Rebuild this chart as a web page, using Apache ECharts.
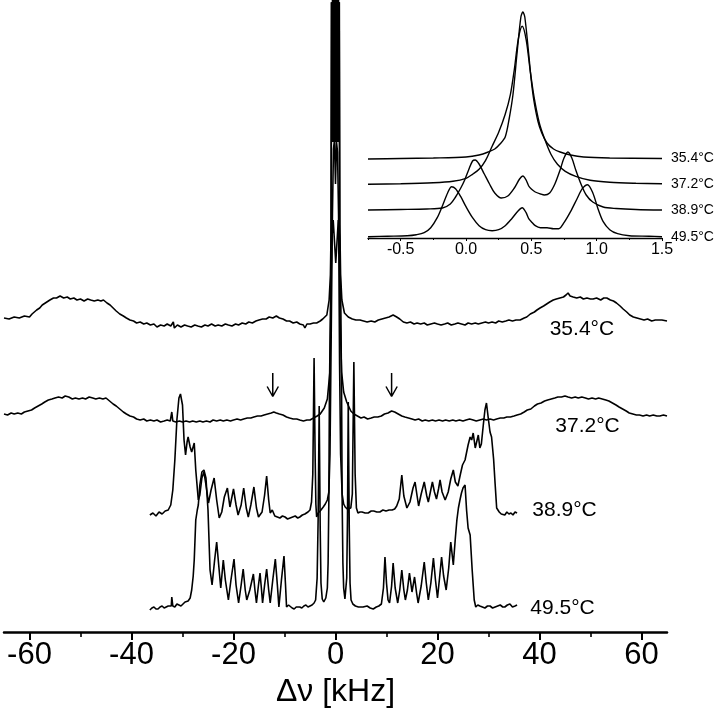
<!DOCTYPE html>
<html>
<head>
<meta charset="utf-8">
<script src="https://cdn.jsdelivr.net/npm/echarts@6.0.0/dist/echarts.min.js"></script>
<style>
  html, body { margin: 0; background: #fff; }
  #chart { width: 720px; height: 708px; }
</style>
</head>
<body>
<div id="chart"></div>
<script>
// temperatures (legend text of every trace)
const temps = ["35.4°C", "37.2°C", "38.9°C", "49.5°C"];

// main spectra: [Δν kHz, intensity above own baseline]
const spec354 = [[-65,7],[-64,6],[-63,8],[-62,7],[-61,9],[-60,8],[-59.5,11],[-58.6,15],[-58,17],[-57.5,20],[-56.6,23],[-56,25],[-55.3,27],[-54.7,27],[-54,29],[-53.3,27],[-52.6,28],[-52,26],[-51.3,27],[-50.7,25],[-50,26],[-49.3,24],[-48.6,26],[-48,25],[-47.3,24],[-46.6,25],[-46,24],[-45.5,25],[-44.8,22],[-44.2,20],[-43.6,17],[-43,14],[-42.3,11],[-41.6,9],[-41,7],[-40.3,5],[-39.6,4],[-39,2],[-38.3,3],[-37.6,1],[-37,2],[-36.3,0],[-35.6,1],[-35,-2],[-34.3,0],[-33.6,-1],[-33,1],[-32.3,-1],[-31.8,3],[-31.6,-3],[-31,0],[-30.3,-2],[-29.6,0],[-29,-1],[-28.3,-2],[-27.6,0],[-27,-1],[-26.3,-2],[-25.6,0],[-25,-1],[-24.3,1],[-23.6,-1],[-23,0],[-22.3,-1],[-21.6,1],[-21,0],[-20.3,-1],[-19.6,1],[-19,0],[-18.3,2],[-17.6,1],[-17,3],[-16.3,2],[-15.6,4],[-15,5],[-14.3,6],[-13.6,6],[-13,8],[-12.3,7],[-11.6,9],[-11,7],[-10.3,6],[-9.6,4],[-9,4],[-8.3,2],[-7.6,3],[-7,1],[-6.3,0],[-6,-3],[-5.6,1],[-5,1],[-4.3,2],[-3.7,2],[-3,4],[-2.5,6],[-2.1,8],[-1.7,10],[-1.25,25],[-1.0,50],[-0.85,100],[-0.75,330],[-0.6,900],[0,1100],[0.6,900],[0.75,330],[0.85,100],[1.0,50],[1.25,25],[1.75,12],[2.5,8],[3.3,6],[4,5],[4.8,5],[5.5,4],[6.2,3],[7,4],[7.7,3],[8.4,5],[9.1,6],[9.8,7],[10.5,8],[11.3,10],[12,8],[12.6,6],[13.3,3],[14,2],[14.7,3],[15.4,1],[16,2],[16.7,1],[17.4,2],[18,0],[18.7,1],[19.4,2],[20,1],[20.7,0],[21.4,1],[22,2],[22.7,0],[23.4,1],[24,2],[24.7,1],[25.4,0],[26,2],[26.7,1],[27.4,2],[28,1],[28.7,2],[29.4,3],[30,2],[30.7,3],[31.4,2],[32,4],[32.7,3],[33.4,4],[34,5],[34.7,4],[35.4,5],[36.2,5],[37,7],[37.5,8],[38.2,11],[39,13],[39.5,15],[40.1,17],[40.8,19],[41.4,21],[42,23],[42.7,25],[43.3,26],[44,27],[44.7,28],[45.2,30],[45.6,32],[46,29],[46.6,28],[47.3,27],[48,28],[48.6,26],[49.3,27],[50,26],[50.5,26],[51.2,27],[52,25],[52.6,27],[53.2,27],[53.9,25],[54.5,24],[55.1,22],[55.8,19],[56.4,16],[57.1,13],[57.7,10],[58.4,8],[59.1,7],[59.8,6],[60.5,5],[61.2,6],[62,4],[62.7,5],[63.4,5],[64,5],[65,4]];

const spec372 = [[-65,6],[-64.3,5],[-63.6,7],[-63,6],[-62.3,7],[-61.6,6],[-61,8],[-60.3,9],[-59.6,10],[-59,12],[-58.3,14],[-57.6,16],[-57,18],[-56.3,20],[-55.6,21],[-55,22],[-54.3,23],[-53.6,22],[-53,24],[-52.3,23],[-51.6,21],[-51,22],[-50.3,21],[-49.6,22],[-49,21],[-48.3,23],[-47.6,22],[-47,21],[-46.3,22],[-45.6,21],[-45,22],[-44.3,19],[-43.6,16],[-43,14],[-42.3,11],[-41.6,8],[-41,6],[-40.3,4],[-39.6,3],[-39,1],[-38.3,0],[-37.6,1],[-37,-1],[-36.3,0],[-35.6,-1],[-35,0],[-34.3,-2],[-33.6,-1],[-33,0],[-32.4,-1],[-32.1,8],[-31.9,-1],[-31.3,-2],[-30.6,-1],[-30,-2],[-29.3,-1],[-28.6,-2],[-28,-1],[-27.3,-2],[-26.6,-1],[-26,-2],[-25.3,-1],[-24.6,-2],[-24,0],[-23.3,-1],[-22.6,0],[-22,-1],[-21.3,0],[-20.6,-1],[-20,0],[-19.3,1],[-18.6,0],[-18,1],[-17.3,2],[-16.6,2],[-16,3],[-15.3,4],[-14.6,4],[-14,5],[-13.3,6],[-12.6,7],[-12.1,8],[-11.6,7],[-11,6],[-10.3,5],[-9.6,3],[-9,2],[-8.3,1],[-7.6,1],[-7,0],[-6.3,-1],[-6,-3],[-5.6,0],[-5,0],[-4.3,2],[-3.6,4],[-3,6],[-2.2,12],[-1.6,21],[-1.1,48],[-0.9,110],[-0.8,420],[-0.65,900],[0,1100],[0.6,900],[0.72,420],[0.85,110],[1.2,48],[1.6,28],[2.2,18],[3,9],[3.6,6],[4.3,4],[5,2],[5.6,3],[6.3,1],[7,2],[7.6,3],[8.3,3],[9,4],[9.6,6],[10.3,7],[11,9],[11.6,8],[12.3,6],[13,4],[13.6,3],[14.3,2],[15,1],[15.6,0],[16.3,1],[17,-1],[17.6,0],[18.3,-1],[19,0],[19.6,-1],[20.3,0],[21,-1],[21.6,0],[22.3,-1],[23,0],[23.6,-1],[24.3,0],[25,-1],[25.6,0],[26.3,1],[27,0],[27.6,-1],[28.3,0],[29,1],[29.6,0],[30.3,1],[31,0],[31.6,1],[32.3,2],[33,2],[33.6,3],[34.3,3],[35,4],[35.6,5],[36.3,6],[37,8],[37.6,10],[38.3,11],[39,14],[39.6,16],[40.3,17],[41,19],[41.6,20],[42.3,21],[43,22],[43.6,23],[44.3,23],[45,24],[45.3,25],[45.6,23],[46.3,22],[47,23],[47.6,22],[48.3,23],[49,22],[49.6,21],[50.3,22],[51,21],[51.6,22],[52.3,21],[53,20],[53.6,19],[54.3,17],[55,15],[55.6,13],[56.3,11],[57,9],[57.6,7],[58.3,6],[59,5],[59.6,5],[60.3,4],[61,5],[61.6,4],[62.3,5],[63,4],[63.6,4],[64.3,5],[65,4]];

const spec389 = [[-36.4,-1],[-35.8,1],[-35.2,-2],[-34.6,2],[-34.0,0],[-33.4,3],[-32.8,4],[-32.3,9],[-31.9,24],[-31.5,54],[-31.1,94],[-30.7,116],[-30.4,120],[-30.0,109],[-29.7,74],[-29.4,59],[-29.1,72],[-28.9,77],[-28.5,67],[-28.2,62],[-27.7,71],[-27.4,44],[-26.9,14],[-26.6,19],[-26.2,36],[-25.8,42],[-25.4,29],[-24.9,11],[-24.4,24],[-23.8,36],[-23.3,14],[-22.8,-4],[-22.3,2],[-21.8,17],[-21.2,26],[-20.7,7],[-20.0,25],[-19.5,9],[-19.1,-1],[-18.5,9],[-18.0,26],[-17.5,6],[-17.1,-3],[-16.6,9],[-16.0,27],[-15.5,6],[-15.1,-3],[-14.4,2],[-13.9,19],[-13.5,38],[-13.1,14],[-12.8,1],[-12.4,4],[-11.9,-2],[-11.4,-3],[-10.9,-4],[-10.4,-2],[-9.9,-3],[-9.4,-5],[-8.9,-4],[-8.4,-3],[-7.9,-2],[-7.4,-4],[-7.0,-3],[-6.5,-1],[-6.0,0],[-5.4,2],[-5.0,4],[-4.7,12],[-4.45,40],[-4.2,156],[-4.0,60],[-3.85,10],[-3.7,-3],[-3.4,1],[-3.0,3],[-2.7,5],[-2.4,7],[-2.0,10],[-1.6,14],[-1.3,22],[-1.08,60],[-0.9,150],[-0.6,300],[-0.4,365],[-0.2,374],[0,330],[0.2,372],[0.4,362],[0.6,300],[0.8,150],[1.0,60],[1.3,20],[1.6,10],[1.9,7],[2.3,5],[2.65,3],[3.0,6],[3.3,20],[3.6,152],[3.85,40],[4.1,6],[4.4,1],[4.8,2],[5.2,2],[5.8,1],[6.4,1],[7.0,3],[7.5,3],[8.1,2],[8.7,2],[9.3,4],[9.9,3],[10.5,4],[11.1,4],[11.6,5],[12.0,8],[12.5,15],[13.0,39],[13.4,18],[14.0,6],[14.6,12],[15.2,26],[15.6,32],[16.0,18],[16.3,8],[16.8,20],[17.4,32],[17.9,18],[18.2,12],[18.6,22],[19.0,32],[19.4,22],[19.8,15],[20.2,25],[20.5,34],[20.9,22],[21.5,14],[22.1,22],[22.6,35],[23.1,44],[23.5,32],[24.0,28],[24.5,40],[24.9,49],[25.4,54],[26.0,69],[26.4,77],[26.7,74],[27.0,81],[27.4,66],[27.7,64],[28.0,79],[28.3,66],[28.6,70],[29.0,90],[29.3,104],[29.6,111],[30.0,94],[30.3,82],[30.6,77],[31.0,55],[31.3,30],[31.6,6],[32.1,2],[32.5,0],[32.8,1],[33.2,-1],[33.6,2],[34.0,0],[34.4,1],[34.8,-1],[35.2,2],[35.6,1]];

const spec495 = [[-36.4,-2],[-36.0,0],[-35.6,1],[-35.2,-1],[-34.8,-1],[-34.4,1],[-34.0,2],[-33.6,0],[-33.2,1],[-32.8,2],[-32.5,3],[-32.2,2],[-32.1,11],[-31.9,2],[-31.5,1],[-31.1,4],[-30.7,3],[-30.3,2],[-29.9,4],[-29.5,6],[-29.2,5],[-28.9,7],[-28.5,10],[-28.2,18],[-27.9,32],[-27.7,48],[-27.4,88],[-27.1,98],[-26.9,103],[-26.6,123],[-26.2,136],[-25.8,138],[-25.4,130],[-25.0,98],[-24.6,38],[-24.2,23],[-23.7,48],[-23.3,66],[-22.9,43],[-22.5,20],[-22.0,48],[-21.6,28],[-21.0,8],[-20.5,28],[-19.9,49],[-19.5,23],[-19.0,5],[-18.5,23],[-18.1,39],[-17.7,18],[-17.4,8],[-16.8,18],[-16.1,34],[-15.8,18],[-15.5,5],[-15.1,23],[-14.8,35],[-14.5,18],[-14.3,5],[-13.9,23],[-13.5,39],[-13.1,18],[-12.8,5],[-12.3,28],[-11.8,49],[-11.4,23],[-11.1,1],[-10.6,28],[-10.1,52],[-9.8,23],[-9.6,1],[-9.2,3],[-8.9,2],[-8.5,0],[-8.1,-1],[-7.7,1],[-7.4,2],[-7.0,1],[-6.6,0],[-6.2,2],[-5.8,3],[-5.4,1],[-5.0,2],[-4.6,3],[-4.2,5],[-3.9,8],[-3.6,30],[-3.4,90],[-3.2,202],[-3.0,80],[-2.85,25],[-2.6,9],[-2.3,6],[-1.9,10],[-1.6,20],[-1.45,45],[-1.3,110],[-1.2,210],[-1.0,300],[-0.7,370],[-0.45,388],[0.05,345],[0.55,388],[0.8,370],[1.05,300],[1.2,210],[1.3,110],[1.45,45],[1.6,20],[1.85,9],[2.05,8],[2.2,30],[2.35,90],[2.5,206],[2.7,80],[2.85,25],[3.05,8],[3.4,4],[3.9,2],[4.5,1],[4.8,0],[5.4,1],[6.2,2],[6.8,0],[7.4,-1],[8.0,1],[8.5,2],[9.0,4],[9.4,20],[9.7,51],[10.0,25],[10.3,8],[10.6,5],[11.0,22],[11.3,45],[11.7,20],[12.2,5],[12.6,18],[13.0,38],[13.4,18],[13.7,8],[14.1,18],[14.5,35],[15.0,16],[15.5,31],[15.9,15],[16.2,5],[16.8,22],[17.4,46],[17.8,25],[18.2,8],[18.7,25],[19.2,50],[19.6,28],[20.0,10],[20.4,30],[20.8,51],[21.2,32],[21.7,18],[22.2,40],[22.6,66],[23.1,43],[23.5,70],[23.8,88],[24.1,100],[24.4,108],[24.7,115],[25.0,120],[25.4,123],[25.7,98],[26.0,80],[26.4,73],[26.8,38],[27.2,8],[27.5,1],[27.9,3],[28.3,2],[28.8,1],[29.3,0],[29.8,2],[30.3,2],[30.8,0],[31.3,1],[31.8,2],[32.3,3],[32.8,1],[33.2,1],[33.7,3],[34.2,4],[34.7,1],[35.2,2],[35.6,3]];

// vertical stacking offset of each main trace
const mainOffsets = [307, 212, 118, 24];
// saturated centre line (clipped at the top of the plot)
const satCore = { kHz: 0, from: 490, to: 700 };
// arrows over the 37.2°C trace
const arrowKHz = [-12.3, 11.0];
const arrowTop = 259, arrowTip = 235.5;

// inset spectra: [Δν kHz, intensity above own baseline]
const ins354 = [[-0.75,0],[-0.5,0.5],[-0.25,1],[0,2],[0.1,4],[0.17,7],[0.22,10],[0.26,15],[0.3,22],[0.33,40],[0.36,65],[0.39,105],[0.42,142],[0.435,147],[0.45,142],[0.48,105],[0.5,78],[0.52,58],[0.55,38],[0.58,26],[0.62,16],[0.67,10],[0.72,7],[0.8,4],[0.9,2],[1.1,1],[1.5,0.5]];
const ins372 = [[-0.75,0],[-0.5,0.5],[-0.25,1.5],[-0.1,3],[0,6],[0.05,10],[0.1,15],[0.15,24],[0.2,38],[0.25,52],[0.3,70],[0.34,90],[0.37,115],[0.4,145],[0.43,158],[0.46,145],[0.49,115],[0.52,88],[0.56,62],[0.6,46],[0.65,30],[0.7,20],[0.76,13],[0.84,8],[0.95,4],[1.1,2],[1.3,1],[1.5,0.5]];
const ins389 = [[-0.75,0],[-0.5,0.5],[-0.3,1],[-0.18,2],[-0.12,6],[-0.08,13],[-0.04,22],[-0.01,30],[0.02,40],[0.05,49],[0.07,50],[0.1,46],[0.14,36],[0.18,26],[0.22,17],[0.27,12],[0.32,14],[0.37,22],[0.41,31],[0.435,34],[0.46,30],[0.48,24],[0.5,21],[0.53,18],[0.57,16],[0.6,15],[0.64,17],[0.68,26],[0.72,40],[0.75,52],[0.78,58],[0.81,52],[0.84,40],[0.88,26],[0.92,15],[0.97,8],[1.05,3],[1.15,1.5],[1.3,0.5],[1.5,0]];
const ins495 = [[-0.75,0],[-0.6,0.5],[-0.45,1],[-0.38,2],[-0.32,4],[-0.27,9],[-0.22,19],[-0.18,31],[-0.14,44],[-0.11,50],[-0.08,48],[-0.04,40],[0,30],[0.05,19],[0.1,11],[0.15,7],[0.2,6],[0.25,7],[0.3,11],[0.35,18],[0.4,26],[0.43,29],[0.46,24],[0.48,18],[0.5,15],[0.53,11],[0.57,9],[0.62,9],[0.67,8],[0.71,8],[0.75,14],[0.8,25],[0.85,38],[0.89,48],[0.93,52],[0.97,44],[1.01,28],[1.05,15],[1.1,7],[1.16,3],[1.25,1],[1.4,0.5],[1.5,0]];
const insetOffsets = [79, 53.7, 28, 1.3];

// axis ticks
const mainMajor = [-60, -40, -20, 0, 20, 40, 60];
const mainMinor = [-50, -30, -10, 10, 30, 50];
const insMajor = [-0.5, 0, 0.5, 1.0, 1.5];
const insMinor = [-0.75, -0.25, 0.25, 0.75, 1.25];

// where the main trace labels sit (left edge, vertical middle)
const mainLabelSpots = [[41.9, 303], [43.0, 206], [38.5, 122], [38.1, 24]];

const FONT = "'Liberation Sans', Arial, sans-serif";
const INK = "#000";

const chart = echarts.init(document.getElementById("chart"), null, { renderer: "canvas" });

const lineBase = {
  type: "line",
  symbol: "none",
  showSymbol: false,
  silent: true,
  animation: false,
  clip: true,
  lineStyle: { color: INK, width: 1.6 },
};

const mainSeries = [spec354, spec372, spec389, spec495].map((s, i) => ({
  ...lineBase,
  name: temps[i],
  xAxisIndex: 0,
  yAxisIndex: 0,
  data: s.map((p) => [p[0], p[1] + mainOffsets[i]]),
}));

const coreSeries = {
  ...lineBase,
  xAxisIndex: 0,
  yAxisIndex: 0,
  data: [[satCore.kHz, satCore.from], [satCore.kHz, satCore.to]],
  lineStyle: { color: INK, width: 7.6, cap: "butt" },
};

const arrowSeries = arrowKHz.map((k) => ({
  ...lineBase,
  xAxisIndex: 0,
  yAxisIndex: 0,
  lineStyle: { color: INK, width: 1.5 },
  data: [[k, arrowTop], [k, arrowTip], [k - 1.1, arrowTip + 10], [k, arrowTip], [k + 1.1, arrowTip + 10]],
}));

const labelSeries = {
  type: "scatter",
  xAxisIndex: 0,
  yAxisIndex: 0,
  silent: true,
  animation: false,
  symbolSize: 1,
  itemStyle: { color: "#fff", opacity: 1 },
  data: mainLabelSpots.map((p, i) => ({ value: p, name: temps[i] })),
  label: {
    show: true,
    position: "right",
    distance: 0,
    formatter: (p) => p.name,
    color: INK,
    opacity: 1,
    fontFamily: FONT,
    fontSize: 21,
  },
  labelLayout: { hideOverlap: false },
};

const insetSeries = [ins354, ins372, ins389, ins495].map((s, i) => ({
  ...lineBase,
  name: temps[i],
  xAxisIndex: 2,
  yAxisIndex: 1,
  smooth: 0.3,
  lineStyle: { color: INK, width: 1.4 },
  data: s.map((p) => [p[0], p[1] + insetOffsets[i]]),
  endLabel: {
    show: true,
    formatter: "{a}",
    distance: 9,
    color: INK,
    fontFamily: FONT,
    fontSize: 14,
  },
}));

chart.setOption({
  backgroundColor: "#fff",
  animation: false,
  grid: [
    { left: 4, right: 53, top: 3, bottom: 76, containLabel: false, outerBoundsMode: "none" },
    { left: 368, width: 294, top: 0, height: 238, containLabel: false, outerBoundsMode: "none" },
  ],
  xAxis: [
    {
      type: "value",
      gridIndex: 0,
      position: "bottom",
      min: -65,
      max: 65,
      name: "Δν [kHz]",
      nameLocation: "middle",
      nameGap: 40,
      nameTextStyle: { color: INK, fontFamily: FONT, fontSize: 32 },
      axisLine: { show: true, onZero: false, lineStyle: { color: INK, width: 2.5 } },
      axisTick: { show: true, inside: false, length: 8, customValues: mainMajor, lineStyle: { color: INK, width: 2 } },
      axisLabel: { show: true, customValues: mainMajor, margin: 8, color: INK, fontFamily: FONT, fontSize: 31 },
      splitLine: { show: false },
    },
    {
      type: "value",
      gridIndex: 0,
      position: "bottom",
      min: -65,
      max: 65,
      axisLine: { show: false, onZero: false },
      axisTick: { show: true, inside: false, length: 5, customValues: mainMinor, lineStyle: { color: INK, width: 1.6 } },
      axisLabel: { show: false },
      splitLine: { show: false },
    },
    {
      type: "value",
      gridIndex: 1,
      position: "bottom",
      min: -0.75,
      max: 1.5,
      axisLine: { show: true, onZero: false, lineStyle: { color: INK, width: 1.4 } },
      axisTick: { show: true, inside: false, length: 3, customValues: insMajor, lineStyle: { color: INK, width: 1 } },
      axisLabel: {
        show: true,
        customValues: insMajor,
        margin: 4,
        color: INK,
        fontFamily: FONT,
        fontSize: 16,
        formatter: (v) => v.toFixed(1),
      },
      splitLine: { show: false },
    },
    {
      type: "value",
      gridIndex: 1,
      position: "bottom",
      min: -0.75,
      max: 1.5,
      axisLine: { show: false, onZero: false },
      axisTick: { show: true, inside: false, length: 2, customValues: insMinor, lineStyle: { color: INK, width: 1 } },
      axisLabel: { show: false },
      splitLine: { show: false },
    },
  ],
  yAxis: [
    { type: "value", gridIndex: 0, min: 0, max: 629, show: false },
    { type: "value", gridIndex: 1, min: 0, max: 238, show: false },
  ],
  series: [...mainSeries, coreSeries, ...arrowSeries, labelSeries, ...insetSeries],
});
</script>
</body>
</html>
